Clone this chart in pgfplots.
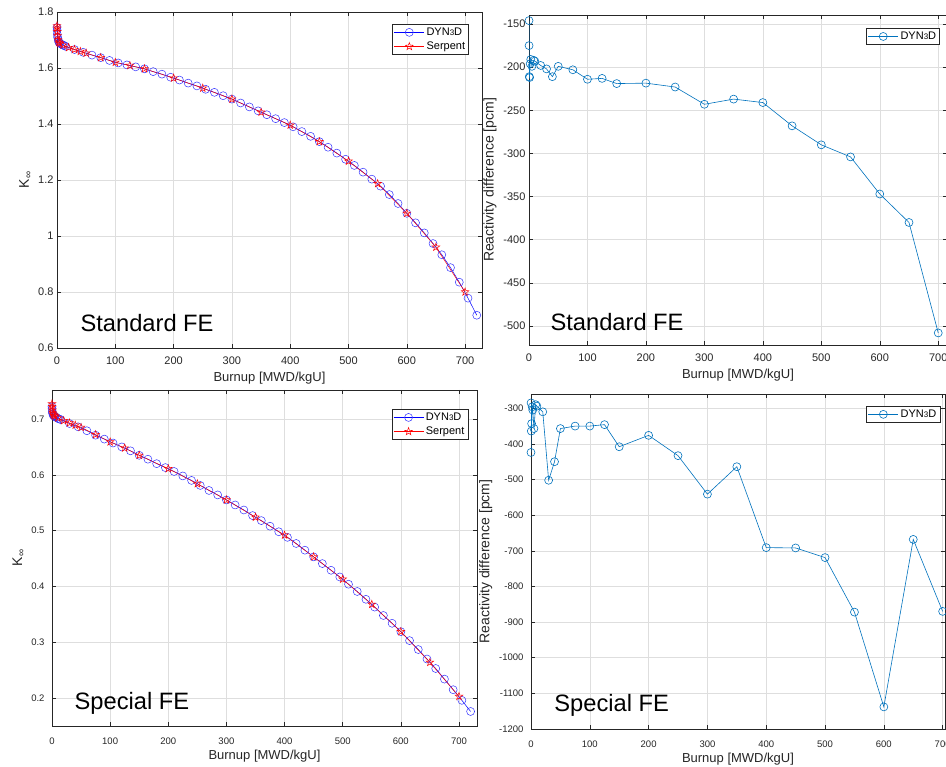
\documentclass[border=0pt]{standalone}
\usepackage{pgfplots}
\pgfplotsset{compat=1.18}
\usepackage{fontspec}
\setmainfont{Liberation Sans}
\usetikzlibrary{plotmarks}

\definecolor{axgray}{RGB}{38,38,38}
\definecolor{gridgray}{RGB}{222,222,222}
\definecolor{mblue}{RGB}{0,114,189}

\pgfdeclareplotmark{pentagram}{%
  \pgfpathmoveto{\pgfpointpolar{90}{\pgfplotmarksize}}%
  \pgfpathlineto{\pgfpointpolar{126}{0.4\pgfplotmarksize}}%
  \pgfpathlineto{\pgfpointpolar{162}{\pgfplotmarksize}}%
  \pgfpathlineto{\pgfpointpolar{198}{0.4\pgfplotmarksize}}%
  \pgfpathlineto{\pgfpointpolar{234}{\pgfplotmarksize}}%
  \pgfpathlineto{\pgfpointpolar{270}{0.4\pgfplotmarksize}}%
  \pgfpathlineto{\pgfpointpolar{306}{\pgfplotmarksize}}%
  \pgfpathlineto{\pgfpointpolar{342}{0.4\pgfplotmarksize}}%
  \pgfpathlineto{\pgfpointpolar{18}{\pgfplotmarksize}}%
  \pgfpathlineto{\pgfpointpolar{54}{0.4\pgfplotmarksize}}%
  \pgfpathclose
  \pgfusepathqstroke
}

\newcommand{\dyn}{DYN{\fontsize{8}{8}\selectfont 3}D}
\newcommand{\kinf}{K{\fontsize{10}{10}\selectfont\raisebox{-0.45ex}{∞}}}

\pgfplotsset{
  mystyle/.style={
    scale only axis, anchor=south west,
    axis line style={axgray, line width=0.6pt},
    tick style={axgray, line width=0.5pt},
    major tick length=4pt,
    tick align=inside,
    xtick pos=both, ytick pos=both,
    grid=major, major grid style={gridgray, line width=0.5pt},
    /pgf/number format/assume math mode=true,
    /pgf/number format/set thousands separator={},
    xlabel style={font=\fontsize{13}{15}\selectfont, text=axgray, at={(rel axis cs:0.5,0)}, anchor=north, inner sep=0pt, yshift=-24pt},
    ylabel style={font=\fontsize{14}{16}\selectfont, text=axgray},
    legend image code/.code={\draw[mark repeat=2,mark phase=2] plot coordinates {(0pt,0pt) (15pt,0pt) (30pt,0pt)};},
    legend style={draw=axgray, line width=0.5pt, fill=white, font=\fontsize{11}{13}\selectfont,
      inner sep=1.5pt, cells={anchor=west}, row sep=1pt},
    xlabel={Burnup [MWD/kgU]},
  },
  dynstyle/.style={blue, line width=0.5pt, mark=o, mark size=4pt, mark options={solid, line width=0.5pt, draw=blue!80}},
  serstyle/.style={red, line width=0.5pt, mark=pentagram, mark size=4pt, mark options={solid, line width=0.5pt}},
  diffstyle/.style={mblue, line width=0.6pt, mark=o, mark size=4pt, mark options={solid, line width=0.6pt}},
}

\begin{document}
\begin{tikzpicture}
\useasboundingbox (0,0) rectangle (946pt,767pt);

% ---------- top left ----------
\begin{axis}[mystyle, at={(57pt,419pt)}, width=425pt, height=336pt,
  xmin=0, xmax=729, ymin=0.6, ymax=1.8,
  xtick={0,100,...,700}, ytick={0.6,0.8,1,1.2,1.4,1.6,1.8},
  ticklabel style={text=axgray, font=\fontsize{11}{13}\selectfont},
  xticklabel style={yshift=-5pt},
  ylabel={\kinf},
  legend style={at={(0.969,0.964)}, anchor=north east}]
\addplot[dynstyle] coordinates {
(0,1.745)(0.1,1.735)(0.5,1.72)(1,1.71)(2,1.70)(3,1.693)(4,1.690)(5,1.688)(7.5,1.685)(10,1.682)(12.5,1.680)
(15,1.677)(30,1.666)(45,1.656)(60,1.646)(75,1.637)(90,1.627)(105,1.618)(120,1.611)(135,1.604)(150,1.597)
(165,1.587)(180,1.578)(195,1.567)(210,1.557)(225,1.546)(240,1.536)(255,1.524)(270,1.513)(285,1.501)(300,1.489)
(315,1.475)(330,1.461)(345,1.447)(360,1.433)(375,1.419)(390,1.405)(405,1.390)(420,1.373)(435,1.356)(450,1.337)
(465,1.317)(480,1.296)(495,1.274)(510,1.252)(525,1.228)(540,1.203)(555,1.178)(570,1.148)(585,1.116)(600,1.081)
(615,1.047)(630,1.011)(645,0.973)(660,0.933)(675,0.887)(690,0.835)(705,0.778)(720,0.717)};
\addlegendentry{\dyn}
\addplot[serstyle] coordinates {
(0,1.750)(0.1,1.742)(0.5,1.73)(1,1.715)(2,1.70)(3,1.692)(5,1.688)(10,1.682)(20,1.673)(30,1.666)(40,1.659)(50,1.653)
(75,1.637)(100,1.620)(125,1.609)(150,1.597)(200,1.564)(250,1.528)(300,1.489)(350,1.442)(400,1.396)(450,1.337)
(500,1.267)(550,1.187)(600,1.081)(650,0.960)(700,0.800)};
\addlegendentry{Serpent}
\node[anchor=base west, font=\fontsize{23.7}{26}\selectfont] at (rel axis cs:0.047,0.05) {Standard FE};
\end{axis}

% ---------- top right ----------
\begin{axis}[mystyle, at={(529pt,422pt)}, width=418pt, height=330pt,
  xmin=0, xmax=715, ymin=-522, ymax=-139.5,
  xtick={0,100,...,700}, ytick={-500,-450,...,-150},
  ticklabel style={text=axgray, font=\fontsize{11}{13}\selectfont},
  xticklabel style={yshift=-5pt},
  ylabel={Reactivity difference [pcm]},
  legend style={at={(0.983,0.96)}, anchor=north east}]
\addplot[diffstyle] coordinates {
(0,-146)(0.1,-175)(0.5,-211)(1,-212)(2,-196)(3,-191)(5,-199)(8,-192)(10,-193)(20,-198)(30,-202)(40,-211)
(50,-199)(75,-203)(100,-214)(125,-213)(150,-219)(200,-218.5)(250,-223)(300,-243)(350,-237)(400,-241)
(450,-268)(500,-290)(550,-304)(600,-347)(650,-380)(700,-508)};
\addlegendentry{\dyn}
\node[anchor=base west, font=\fontsize{23.7}{26}\selectfont] at (rel axis cs:0.043,0.045) {Standard FE};
\end{axis}

% ---------- bottom left ----------
\begin{axis}[mystyle, at={(52pt,41pt)}, width=425pt, height=336pt,
  xmin=0, xmax=731, ymin=0.15, ymax=0.752,
  xtick={0,100,...,700}, ytick={0.2,0.3,0.4,0.5,0.6,0.7},
  ticklabel style={text=axgray, font=\fontsize{9.5}{11}\selectfont},
  xticklabel style={yshift=-8pt}, yticklabel style={xshift=-4pt},
  ylabel={\kinf},
  legend style={at={(0.979,0.943)}, anchor=north east}]
\addplot[dynstyle] coordinates {
(0,0.722)(0.1,0.718)(0.5,0.713)(1,0.710)(2,0.707)(3,0.706)(4,0.705)(5,0.704)(7.5,0.703)(10,0.701)(12.5,0.700)
(15,0.699)(30,0.692)(45,0.686)(60,0.679)(75,0.671)(90,0.664)(105,0.657)(120,0.650)(135,0.643)(150,0.635)
(165,0.628)(180,0.620)(195,0.613)(210,0.606)(225,0.598)(240,0.590)(255,0.581)(270,0.572)(285,0.564)(300,0.555)
(315,0.546)(330,0.537)(345,0.527)(360,0.518)(375,0.508)(390,0.498)(405,0.488)(420,0.477)(435,0.465)(450,0.453)
(465,0.441)(480,0.429)(495,0.417)(510,0.404)(525,0.391)(540,0.377)(555,0.363)(570,0.348)(585,0.334)(600,0.319)
(615,0.303)(630,0.287)(645,0.270)(660,0.253)(675,0.234)(690,0.215)(705,0.196)(720,0.176)};
\addlegendentry{\dyn}
\addplot[serstyle] coordinates {
(0,0.727)(0.1,0.722)(0.5,0.716)(1,0.712)(2,0.709)(3,0.707)(5,0.705)(10,0.702)(20,0.697)(30,0.693)(40,0.689)(50,0.685)
(75,0.672)(100,0.659)(125,0.648)(150,0.635)(200,0.611)(250,0.584)(300,0.555)(350,0.524)(400,0.492)(450,0.453)
(500,0.413)(550,0.368)(600,0.319)(650,0.264)(700,0.203)};
\addlegendentry{Serpent}
\node[anchor=base west, font=\fontsize{23.7}{26}\selectfont] at (rel axis cs:0.045,0.048) {Special FE};
\end{axis}

% ---------- bottom right ----------
\begin{axis}[mystyle, at={(531pt,38pt)}, width=414pt, height=335pt,
  xmin=0, xmax=704, ymin=-1200, ymax=-260,
  xtick={0,100,...,700}, ytick={-1200,-1100,...,-300},
  ticklabel style={text=axgray, font=\fontsize{9.5}{11}\selectfont},
  xticklabel style={yshift=-8pt}, yticklabel style={xshift=-4pt},
  ylabel={Reactivity difference [pcm]},
  legend style={at={(0.988,0.964)}, anchor=north east}]
\addplot[diffstyle] coordinates {
(0,-424)(0.1,-285)(0.5,-364)(1,-343)(2,-296)(3,-305)(5,-357)(8,-290)(10,-294)(20,-310)(30,-502)(40,-450)
(50,-357)(75,-350)(100,-350)(125,-346)(150,-408)(200,-376)(250,-433)(300,-541)(350,-464)(400,-691)
(450,-692)(500,-719)(550,-872)(600,-1138)(650,-668)(700,-870)};
\addlegendentry{\dyn}
\node[anchor=base west, font=\fontsize{23.7}{26}\selectfont] at (rel axis cs:0.048,0.051) {Special FE};
\end{axis}
\end{tikzpicture}
\end{document}
